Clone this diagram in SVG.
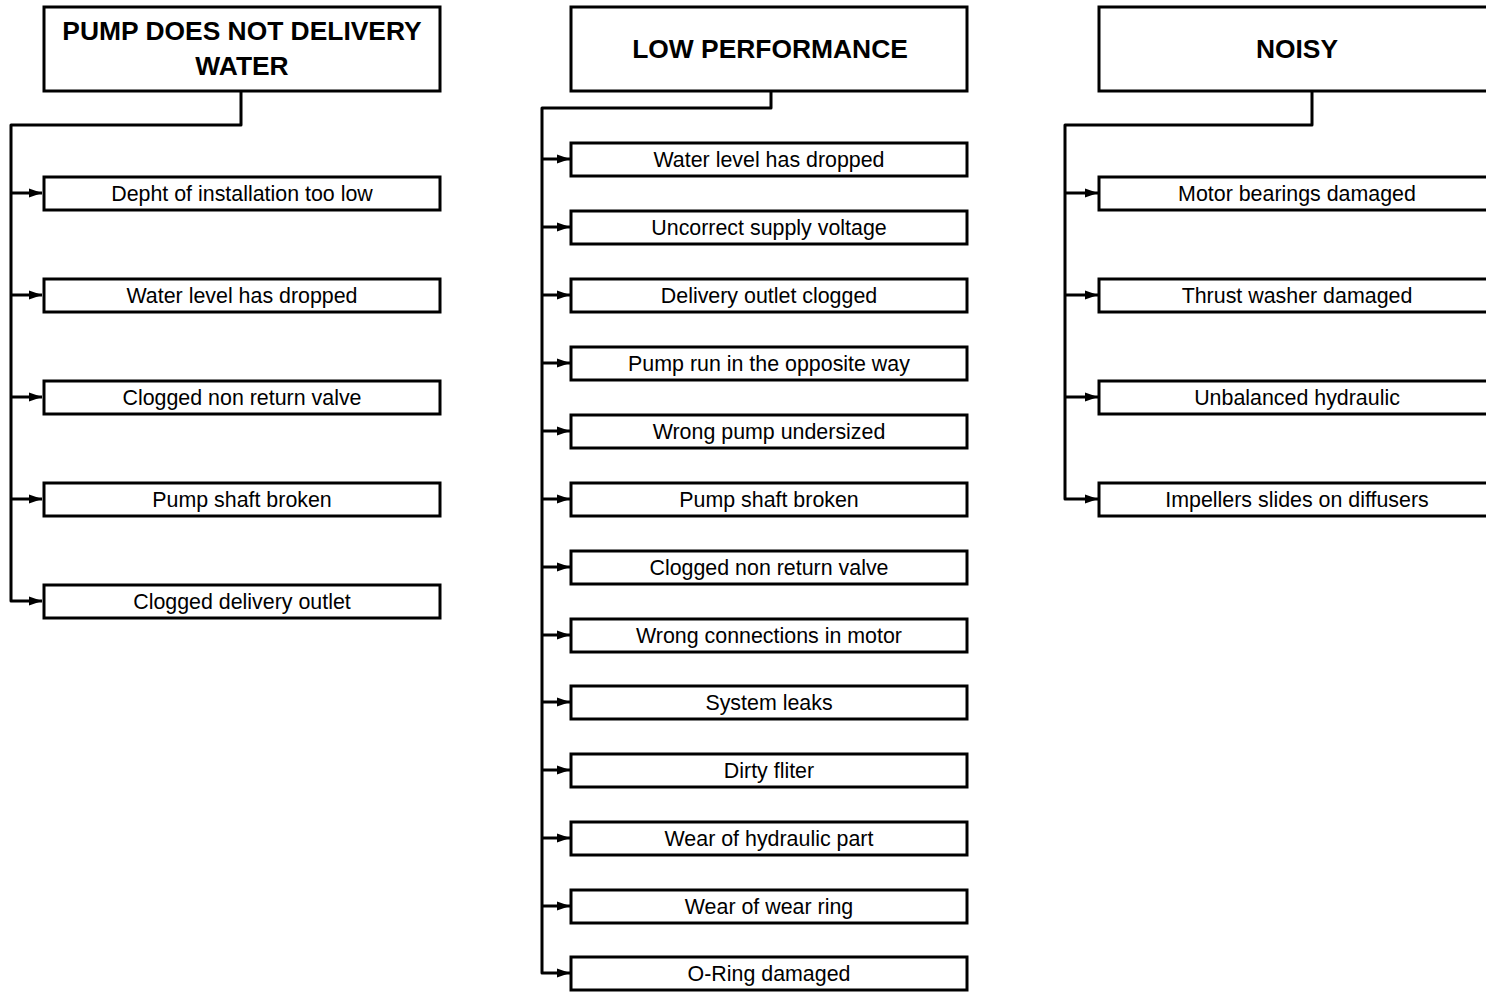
<svg xmlns="http://www.w3.org/2000/svg" width="1486" height="992" viewBox="0 0 1486 992">
<style>
.box{fill:#fff;stroke:#000;stroke-width:3}
.hd{font-family:"Liberation Sans",Arial,sans-serif;font-weight:bold;font-size:26.4px;text-anchor:middle;fill:#000}
.tx{font-family:"Liberation Sans",Arial,sans-serif;font-size:21.4px;text-anchor:middle;fill:#000}
.ln{fill:none;stroke:#000;stroke-width:3;stroke-linejoin:round}
</style>
<defs>
<marker id="ah" markerUnits="userSpaceOnUse" markerWidth="14" markerHeight="12" refX="13" refY="6" orient="auto">
<path d="M0,1.5 L13,6 L0,10.5 z" fill="#000"/>
</marker>
</defs>
<rect width="1486" height="992" fill="#fff"/>
<g id="connectors">
<path class="ln" d="M241,92 V125 H11 V601 H42" marker-end="url(#ah)"/>
<path class="ln" d="M11,193 H42" marker-end="url(#ah)"/>
<path class="ln" d="M11,295 H42" marker-end="url(#ah)"/>
<path class="ln" d="M11,397 H42" marker-end="url(#ah)"/>
<path class="ln" d="M11,499 H42" marker-end="url(#ah)"/>
<path class="ln" d="M771,92 V108 H542 V973 H570" marker-end="url(#ah)"/>
<path class="ln" d="M542,159 H570" marker-end="url(#ah)"/>
<path class="ln" d="M542,227 H570" marker-end="url(#ah)"/>
<path class="ln" d="M542,295 H570" marker-end="url(#ah)"/>
<path class="ln" d="M542,363 H570" marker-end="url(#ah)"/>
<path class="ln" d="M542,431 H570" marker-end="url(#ah)"/>
<path class="ln" d="M542,499 H570" marker-end="url(#ah)"/>
<path class="ln" d="M542,567 H570" marker-end="url(#ah)"/>
<path class="ln" d="M542,635 H570" marker-end="url(#ah)"/>
<path class="ln" d="M542,702 H570" marker-end="url(#ah)"/>
<path class="ln" d="M542,770 H570" marker-end="url(#ah)"/>
<path class="ln" d="M542,838 H570" marker-end="url(#ah)"/>
<path class="ln" d="M542,906 H570" marker-end="url(#ah)"/>
<path class="ln" d="M1312,92 V125 H1065 V499 H1098" marker-end="url(#ah)"/>
<path class="ln" d="M1065,193 H1098" marker-end="url(#ah)"/>
<path class="ln" d="M1065,295 H1098" marker-end="url(#ah)"/>
<path class="ln" d="M1065,397 H1098" marker-end="url(#ah)"/>
</g>
<g id="h1"><rect class="box" x="44" y="7" width="396" height="84"/><text class="hd" x="242" y="40">PUMP DOES NOT DELIVERY</text><text class="hd" x="242" y="75">WATER</text></g>
<g id="a1"><rect class="box" x="44" y="177" width="396" height="33"/><text class="tx" x="242" y="201">Depht of installation too low</text></g>
<g id="a2"><rect class="box" x="44" y="279" width="396" height="33"/><text class="tx" x="242" y="303">Water level has dropped</text></g>
<g id="a3"><rect class="box" x="44" y="381" width="396" height="33"/><text class="tx" x="242" y="405">Clogged non return valve</text></g>
<g id="a4"><rect class="box" x="44" y="483" width="396" height="33"/><text class="tx" x="242" y="507">Pump shaft broken</text></g>
<g id="a5"><rect class="box" x="44" y="585" width="396" height="33"/><text class="tx" x="242" y="609">Clogged delivery outlet</text></g>
<g id="h2"><rect class="box" x="571" y="7" width="396" height="84"/><text class="hd" x="770" y="58">LOW PERFORMANCE</text></g>
<g id="b1"><rect class="box" x="571" y="143" width="396" height="33"/><text class="tx" x="769" y="167">Water level has dropped</text></g>
<g id="b2"><rect class="box" x="571" y="211" width="396" height="33"/><text class="tx" x="769" y="235">Uncorrect supply voltage</text></g>
<g id="b3"><rect class="box" x="571" y="279" width="396" height="33"/><text class="tx" x="769" y="303">Delivery outlet clogged</text></g>
<g id="b4"><rect class="box" x="571" y="347" width="396" height="33"/><text class="tx" x="769" y="371">Pump run in the opposite way</text></g>
<g id="b5"><rect class="box" x="571" y="415" width="396" height="33"/><text class="tx" x="769" y="439">Wrong pump undersized</text></g>
<g id="b6"><rect class="box" x="571" y="483" width="396" height="33"/><text class="tx" x="769" y="507">Pump shaft broken</text></g>
<g id="b7"><rect class="box" x="571" y="551" width="396" height="33"/><text class="tx" x="769" y="575">Clogged non return valve</text></g>
<g id="b8"><rect class="box" x="571" y="619" width="396" height="33"/><text class="tx" x="769" y="643">Wrong connections in motor</text></g>
<g id="b9"><rect class="box" x="571" y="686" width="396" height="33"/><text class="tx" x="769" y="710">System leaks</text></g>
<g id="b10"><rect class="box" x="571" y="754" width="396" height="33"/><text class="tx" x="769" y="778">Dirty fliter</text></g>
<g id="b11"><rect class="box" x="571" y="822" width="396" height="33"/><text class="tx" x="769" y="846">Wear of hydraulic part</text></g>
<g id="b12"><rect class="box" x="571" y="890" width="396" height="33"/><text class="tx" x="769" y="914">Wear of wear ring</text></g>
<g id="b13"><rect class="box" x="571" y="957" width="396" height="33"/><text class="tx" x="769" y="981">O-Ring damaged</text></g>
<g id="h3"><rect class="box" x="1099" y="7" width="396" height="84"/><text class="hd" x="1297" y="58">NOISY</text></g>
<g id="c1"><rect class="box" x="1099" y="177" width="396" height="33"/><text class="tx" x="1297" y="201">Motor bearings damaged</text></g>
<g id="c2"><rect class="box" x="1099" y="279" width="396" height="33"/><text class="tx" x="1297" y="303">Thrust washer damaged</text></g>
<g id="c3"><rect class="box" x="1099" y="381" width="396" height="33"/><text class="tx" x="1297" y="405">Unbalanced hydraulic</text></g>
<g id="c4"><rect class="box" x="1099" y="483" width="396" height="33"/><text class="tx" x="1297" y="507">Impellers slides on diffusers</text></g>
</svg>
